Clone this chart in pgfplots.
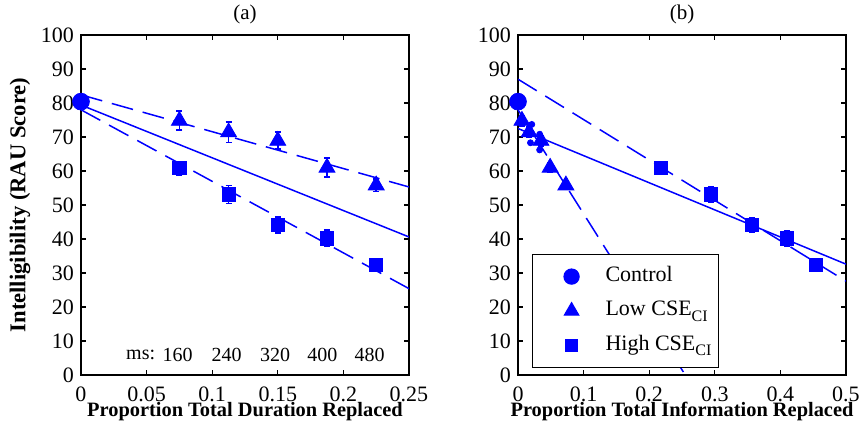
\documentclass[border=0pt]{standalone}
\usepackage{fontspec}
\setmainfont{Liberation Serif}
\usepackage{pgfplots}
\pgfplotsset{compat=1.18}

\definecolor{mblue}{RGB}{0,0,255}

\pgfplotsset{
  panel/.style={
    scale only axis, width=164pt, height=170pt,
    ymin=0, ymax=100, ytick={0,10,...,100},
    tick align=inside, major tick length=2.5pt,
    axis line style={line width=0.6pt},
    every tick/.style={line width=0.6pt, black},
    tick label style={font=\fontsize{11}{13}\selectfont},
    xticklabel style={yshift=-2.2pt},
    label style={font=\fontsize{11.3}{13}\selectfont\bfseries},
    xlabel style={font=\fontsize{10.2}{12}\selectfont\bfseries, at={(axis description cs:0.5,-0.107)}, anchor=center},
    title style={font=\fontsize{10.5}{12}\selectfont, at={(axis description cs:0.5,1.024)}, anchor=center},
    /pgf/number format/assume math mode=true,
  },
  solidfit/.style={color=mblue, line width=0.75pt, forget plot},
  dashfit/.style={color=mblue, line width=0.75pt, dash pattern=on 11pt off 5pt, forget plot},
  ctrl/.style={color=mblue, only marks, mark=*, mark size=4.2pt},
  low/.style={color=mblue, only marks, mark=triangle*, mark size=4.6pt,
    error bars/.cd, y dir=both, y explicit,
    error bar style={line width=0.75pt}, error mark options={rotate=90, mark size=1.5pt, line width=0.75pt}},
  high/.style={color=mblue, only marks, mark=square*, mark size=3.3pt,
    error bars/.cd, y dir=both, y explicit,
    error bar style={line width=0.75pt}, error mark options={rotate=90, mark size=1.5pt, line width=0.75pt}},
}

\begin{document}
\begin{tikzpicture}
\path[use as bounding box] (-40.5pt,-29pt) rectangle (393pt,187.5pt);

% (a) duration
\begin{axis}[panel,
  at={(0pt,0pt)}, anchor=south west,
  xmin=0, xmax=0.25,
  xtick={0,0.05,0.1,0.15,0.2,0.25},
  xticklabels={0,0.05,0.1,0.15,0.2,0.25},
  title={(a)},
  xlabel={Proportion Total Duration Replaced},
  ylabel={Intelligibility (RAU Score)},
  ylabel style={at={(axis description cs:-0.186,0.5)}, anchor=center},
]
  \addplot[dashfit] coordinates {(0,82.4) (0.25,55.3)};
  \addplot[solidfit] coordinates {(0,79.4) (0.25,40.6)};
  \addplot[dashfit] coordinates {(0,78.0) (0.25,25.4)};
  \addplot[ctrl] coordinates {(0,80.4)};
  \addplot[low] coordinates {
    (0.075,74.8) +- (0,2.8)
    (0.1125,71.4) +- (0,3.0)
    (0.15,68.9) +- (0,2.5)
    (0.1875,61.0) +- (0,2.8)
    (0.225,55.8) +- (0,1.8)
  };
  \addplot[high] coordinates {
    (0.075,60.8) +- (0,2.0)
    (0.1125,53.1) +- (0,2.6)
    (0.15,44.1) +- (0,2.4)
    (0.1875,40.2) +- (0,2.4)
    (0.225,32.4) +- (0,1.6)
  };
  \node (m1) at (axis cs:0.0736,5.9) {\fontsize{10}{12}\selectfont 160};
  \node[anchor=east, inner xsep=0pt] at (m1.west) {\fontsize{10}{12}\selectfont ms:};
  \node at (axis cs:0.111,5.9) {\fontsize{10}{12}\selectfont 240};
  \node at (axis cs:0.148,5.9) {\fontsize{10}{12}\selectfont 320};
  \node at (axis cs:0.184,5.9) {\fontsize{10}{12}\selectfont 400};
  \node at (axis cs:0.220,5.9) {\fontsize{10}{12}\selectfont 480};
\end{axis}

% (b) information
\begin{axis}[panel,
  at={(218.5pt,0pt)}, anchor=south west,
  xmin=0, xmax=0.5,
  xtick={0,0.1,...,0.5},
  xticklabels={0,0.1,0.2,0.3,0.4,0.5},
  title={(b)},
  xlabel={Proportion Total Information Replaced},
  legend style={at={(axis description cs:0.0415,0.0206)}, anchor=south west,
    draw=black, line width=0.6pt, fill=white,
    font=\fontsize{11}{13}\selectfont,
    nodes={inner sep=1pt, text height=8pt, text depth=3pt},
    inner xsep=15.9pt, inner ysep=4.5pt, row sep=4.2pt,
    /tikz/every odd column/.append style={column sep=12.2pt}},
  legend cell align=left,
  legend image code/.code={\draw[#1, mark repeat=1, mark size=0.9\pgfplotmarksize] plot coordinates {(0pt,0pt)};},
]
  \addplot[dashfit] coordinates {(0,78.0) (0.255,0)};
  \addplot[solidfit] coordinates {(0,72.5) (0.5,32.6)};
  \addplot[dashfit] coordinates {(0,87.0) (0.5,27.6)};
  \addplot[color=mblue, only marks, mark=*, mark size=1.5pt, forget plot] coordinates {
    (0.021,73.7) (0.019,68.3) (0.033,70.8) (0.033,66.2)
  };
  \addplot[ctrl] coordinates {(0,80.4)};
  \addlegendentry{Control}
  \addplot[low] coordinates {
    (0.006,74.8) +- (0,1.5)
    (0.017,71.4) +- (0,1.5)
    (0.035,68.9) +- (0,1.5)
    (0.049,61.0) +- (0,1.5)
    (0.073,55.8) +- (0,1.2)
  };
  \addlegendentry{Low CSE\raisebox{-0.5ex}{\fontsize{8}{9}\selectfont CI}\kern-13.5pt}
  \addplot[high] coordinates {
    (0.218,60.8) +- (0,1.5)
    (0.294,53.1) +- (0,2.3)
    (0.357,44.1) +- (0,2.2)
    (0.410,40.2) +- (0,2.2)
    (0.454,32.4) +- (0,1.5)
  };
  \addlegendentry{High CSE\raisebox{-0.5ex}{\fontsize{8}{9}\selectfont CI}\kern-13.5pt}
\end{axis}
\end{tikzpicture}
\end{document}
